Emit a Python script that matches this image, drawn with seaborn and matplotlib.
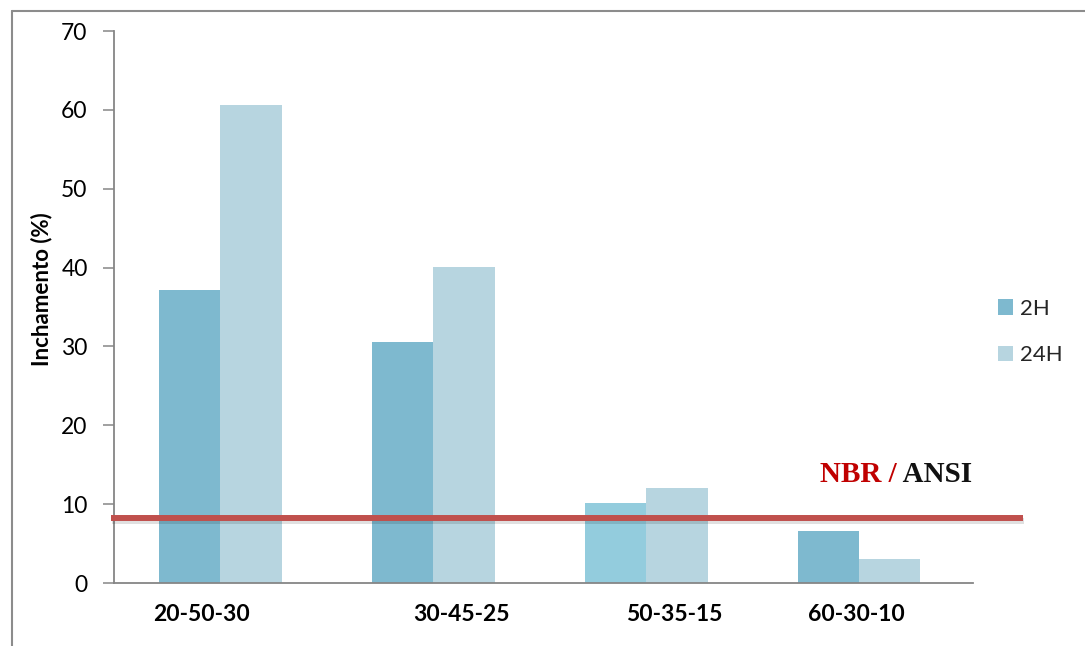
import matplotlib
matplotlib.use("Agg")
import matplotlib.pyplot as plt
import matplotlib.patheffects as pe
from matplotlib.patches import Patch
from matplotlib.lines import Line2D
import seaborn as sns
import pandas as pd

# Swelling after 2 h and 24 h for each mix proportion
categories = ["20-50-30", "30-45-25", "50-35-15", "60-30-10"]
series = ["2H", "24H"]
swell_2h = [37.2, 30.6, 10.2, 6.6]
swell_24h = [60.6, 40.1, 12.1, 3.0]
limit_value = 8.2  # NBR / ANSI limit

y_ticks = [0, 10, 20, 30, 40, 50, 60, 70]

df = pd.DataFrame({
    "Mistura": categories * 2,
    "Tempo": [series[0]] * len(categories) + [series[1]] * len(categories),
    "Inchamento": swell_2h + swell_24h,
})

palette = {"2H": "#7EB9CF", "24H": "#B7D5E0"}
highlight_color = "#93CCDD"

sns.set_theme(style="white")
plt.rcParams["font.family"] = ["Lato", "DejaVu Sans"]

W, H = 1085, 646
fig = plt.figure(figsize=(W / 100, H / 100), dpi=100)
ax = fig.add_axes([114 / W, 1 - 583 / H, 859 / W, 552 / H])

sns.barplot(data=df, x="Mistura", y="Inchamento", hue="Tempo",
            palette=palette, width=0.573, gap=0, linewidth=0,
            saturation=1, ax=ax, zorder=2)
if ax.get_legend() is not None:
    ax.get_legend().remove()

# the 2H bar of the third mix is drawn in a lighter tone
ax.containers[0].patches[2].set_facecolor(highlight_color)

ax.set_xlim(-0.5, 3.533)
ax.set_ylim(0, 70)
ax.set_yticks(y_ticks)
ax.set_yticklabels([str(t) for t in y_ticks], fontsize=16.5, color="#000000")
ax.tick_params(axis="y", direction="out", length=8, width=1.1,
               color="#868686", pad=11, left=True)
ax.tick_params(axis="x", length=0)
ax.set_xticklabels([])
ax.set_xlabel("")

for side in ("top", "right"):
    ax.spines[side].set_visible(False)
for side in ("left", "bottom"):
    ax.spines[side].set_color("#868686")
    ax.spines[side].set_linewidth(1.3)

ax.set_ylabel("Inchamento (%)", fontsize=16, fontweight="bold", color="#000000")
ax.yaxis.set_label_coords(-0.0722, 0.533)

# category labels, nudged horizontally in pixels
label_shift_px = [-18.5, 27.5, 27.5, -3]
for i, (cat, dx) in enumerate(zip(categories, label_shift_px)):
    ax.annotate(cat, xy=(i, 0), xycoords=("data", "axes fraction"),
                xytext=(dx * 0.72, -22.5), textcoords="offset points",
                ha="center", va="center", fontsize=16.5, fontweight="bold",
                color="#000000", annotation_clip=False)

# limit line with a soft shadow, running past the plot area
ax.plot([-0.514, 3.767], [limit_value, limit_value], color="#C0504D",
        linewidth=4.3, solid_capstyle="butt", clip_on=False, zorder=5,
        path_effects=[pe.SimpleLineShadow(offset=(0.5, -2), shadow_color="#000000",
                                          alpha=0.12),
                      pe.Normal()])

# legend
handles = [Patch(facecolor=palette[s], edgecolor="none") for s in series]
fig.legend(handles, series, loc="center left",
           bbox_to_anchor=(998 / W, 1 - 332 / H), frameon=False,
           fontsize=16, handlelength=0.68, handleheight=0.68,
           handletextpad=0.3, labelspacing=1.2, borderpad=0,
           borderaxespad=0)

# "NBR / ANSI" caption
serif = ["Liberation Serif", "DejaVu Serif"]
t1 = fig.text(820 / W, 1 - 481.5 / H, "NBR /", color="#C00000",
              fontsize=21, fontweight="bold", family=serif,
              ha="left", va="baseline")
fig.canvas.draw()
bb = t1.get_window_extent()
fig.text(bb.x1 / W, 1 - 481.5 / H, " ANSI", color="#111111",
         fontsize=21, fontweight="bold", family=serif,
         ha="left", va="baseline")

# outer frame (top and left edges)
frame_kw = dict(color="#8C8C8C", linewidth=1.5, transform=fig.transFigure)
fig.add_artist(Line2D([12 / W, 1.0], [1 - 10.5 / H, 1 - 10.5 / H], **frame_kw))
fig.add_artist(Line2D([12 / W, 12 / W], [1 - 10.5 / H, 0.0], **frame_kw))

fig.savefig("out.png", dpi=100, facecolor="white")
